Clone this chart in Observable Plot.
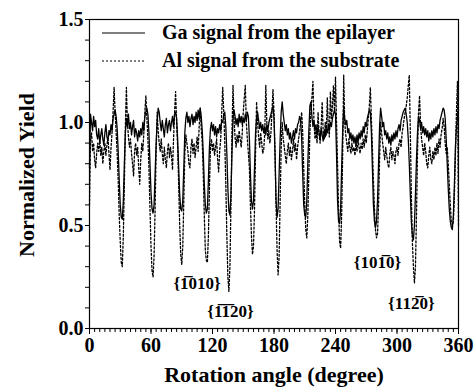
<!DOCTYPE html>
<html>
<head>
<meta charset="utf-8">
<script src="https://cdn.jsdelivr.net/npm/d3@7"></script>
<script src="https://cdn.jsdelivr.net/npm/@observablehq/plot@0.6"></script>
<style>
  html, body { margin: 0; padding: 0; background: white; }
  #chart svg { display: block; }
</style>
</head>
<body>
<div id="chart"></div>
<script>
// Rotation angles (degrees), 1-degree sampling
const angles = [
0,1,2,3,4,5,6,7,8,9,10,11,12,13,14,15,16,17,18,19,
20,21,22,23,24,25,26,27,28,29,30,31,32,33,34,35,36,37,38,39,
40,41,42,43,44,45,46,47,48,49,50,51,52,53,54,55,56,57,58,59,
60,61,62,63,64,65,66,67,68,69,70,71,72,73,74,75,76,77,78,79,
80,81,82,83,84,85,86,87,88,89,90,91,92,93,94,95,96,97,98,99,
100,101,102,103,104,105,106,107,108,109,110,111,112,113,114,115,116,117,118,119,
120,121,122,123,124,125,126,127,128,129,130,131,132,133,134,135,136,137,138,139,
140,141,142,143,144,145,146,147,148,149,150,151,152,153,154,155,156,157,158,159,
160,161,162,163,164,165,166,167,168,169,170,171,172,173,174,175,176,177,178,179,
180,181,182,183,184,185,186,187,188,189,190,191,192,193,194,195,196,197,198,199,
200,201,202,203,204,205,206,207,208,209,210,211,212,213,214,215,216,217,218,219,
220,221,222,223,224,225,226,227,228,229,230,231,232,233,234,235,236,237,238,239,
240,241,242,243,244,245,246,247,248,249,250,251,252,253,254,255,256,257,258,259,
260,261,262,263,264,265,266,267,268,269,270,271,272,273,274,275,276,277,278,279,
280,281,282,283,284,285,286,287,288,289,290,291,292,293,294,295,296,297,298,299,
300,301,302,303,304,305,306,307,308,309,310,311,312,313,314,315,316,317,318,319,
320,321,322,323,324,325,326,327,328,329,330,331,332,333,334,335,336,337,338,339,
340,341,342,343,344,345,346,347,348,349,350,351,352,353,354,355,356,357,358,359,
360];

// Ga signal from the epilayer (solid line)
const gaYield = [
0.78,1.04,1.00,0.96,1.03,0.98,1.01,0.94,0.92,0.97, 0.90,0.94,0.97,0.92,0.89,0.95,0.99,0.93,0.91,0.96,
0.94,0.99,0.96,1.02,1.04,1.06,1.03,0.97,0.86,0.72, 0.60,0.54,0.53,0.62,0.80,0.95,1.02,0.98,1.04,0.97,
1.00,0.94,0.98,1.01,0.93,0.97,0.95,0.91,0.96,0.93, 0.97,0.94,1.00,0.96,1.03,1.05,1.07,1.04,0.95,0.80,
0.66,0.58,0.56,0.60,0.75,0.90,1.00,1.07,1.05,1.00, 0.96,1.01,0.97,0.93,0.99,1.02,0.95,0.99,1.01,0.96,
1.00,1.03,0.98,1.04,1.05,1.02,0.92,0.78,0.65,0.58, 0.57,0.62,0.78,0.95,1.02,1.05,1.00,1.03,0.98,1.02,
1.04,0.99,1.03,1.00,1.05,1.01,1.06,1.02,1.07,1.03, 0.96,0.85,0.70,0.60,0.56,0.58,0.72,0.88,0.97,1.00,
0.96,0.99,0.94,0.98,0.93,0.97,0.95,0.99,0.96,1.01, 1.00,1.04,1.05,0.98,0.85,0.68,0.57,0.55,0.65,0.85,
1.02,1.06,1.03,0.99,1.02,0.98,1.04,1.00,1.03,0.99, 1.02,1.00,1.04,1.01,1.05,1.03,0.92,0.75,0.62,0.58,
0.62,0.78,0.95,1.02,1.05,1.01,0.97,1.00,0.96,0.99, 0.95,0.98,0.94,0.99,0.96,1.00,1.02,1.04,1.06,1.08,
1.02,0.85,0.62,0.54,0.58,0.75,0.92,1.05,1.10,1.04, 1.00,0.96,0.99,0.94,0.97,0.92,0.95,0.90,0.93,0.96,
0.92,0.97,0.95,0.99,1.00,1.03,1.01,0.92,0.75,0.60, 0.55,0.54,0.62,0.80,0.96,1.08,1.10,1.03,0.98,1.01,
0.96,0.99,0.94,0.98,0.95,0.92,0.97,0.94,0.91,0.96, 0.93,0.97,0.95,0.99,0.96,1.00,0.98,1.02,1.04,1.06,
1.04,0.85,0.62,0.52,0.51,0.58,0.78,0.96,1.07,1.02, 0.99,1.01,0.95,0.97,0.92,0.95,0.91,0.94,0.90,0.93,
0.89,0.94,0.91,0.95,0.92,0.96,0.93,0.98,0.95,1.00, 0.98,1.02,1.04,1.06,1.05,0.95,0.78,0.60,0.52,0.49,
0.52,0.62,0.80,0.98,1.07,1.03,0.98,1.00,0.94,0.96, 0.92,0.95,0.90,0.93,0.89,0.94,0.91,0.95,0.92,0.96,
0.93,0.97,0.99,0.96,1.01,1.03,1.05,1.06,1.07,1.04, 1.00,0.92,0.80,0.65,0.52,0.45,0.43,0.50,0.65,0.82,
0.95,1.03,1.01,0.97,1.00,0.95,0.98,0.94,0.97,0.93, 0.96,0.91,0.95,0.92,0.96,0.93,0.97,0.94,0.98,0.95,
0.99,0.97,1.01,1.03,1.05,1.07,1.06,1.02,0.92,0.80, 0.68,0.58,0.52,0.49,0.48,0.55,0.70,0.88,0.98,1.03,
1.06];

// Al signal from the substrate (dotted line)
const alYield = [
0.60,0.92,0.95,0.86,0.90,0.82,0.78,0.85,0.90,0.86, 0.92,0.84,0.88,0.80,0.86,0.90,0.84,0.89,0.93,0.85,
0.77,0.88,0.95,1.05,1.17,1.05,0.95,0.85,0.72,0.55, 0.42,0.32,0.30,0.45,0.70,0.98,1.17,1.00,0.93,0.88,
0.92,0.85,0.80,0.74,0.86,0.90,0.84,0.88,0.78,0.70, 0.82,0.90,0.86,0.95,1.05,1.13,1.02,0.92,0.78,0.58,
0.40,0.28,0.25,0.35,0.58,0.85,1.05,0.96,0.90,0.86, 0.92,0.85,0.80,0.88,0.82,0.78,0.86,0.90,0.83,0.88,
0.84,0.77,0.92,1.05,1.15,1.00,0.88,0.70,0.50,0.36, 0.31,0.40,0.62,0.85,0.94,0.90,0.86,0.80,0.78,0.88,
0.92,0.85,0.90,0.83,0.88,0.93,0.86,0.98,1.07,0.97, 0.90,0.75,0.55,0.38,0.33,0.32,0.45,0.68,0.88,0.92,
0.86,0.90,0.84,0.88,0.92,0.82,0.76,0.86,0.92,1.05, 1.17,1.05,0.90,0.70,0.45,0.25,0.18,0.30,0.60,0.95,
1.18,1.02,0.93,0.88,0.94,0.90,0.96,0.92,0.88,0.95, 1.05,1.12,1.18,1.00,0.92,0.85,0.78,0.60,0.45,0.36,
0.40,0.58,0.85,1.10,1.00,0.93,0.88,0.95,0.90,0.85, 0.87,0.95,1.18,1.00,0.92,0.96,0.90,0.95,1.05,1.16,
1.05,0.85,0.60,0.38,0.26,0.35,0.62,0.88,1.00,0.92, 0.88,0.84,0.80,0.86,0.90,0.84,0.88,0.82,0.86,0.92,
0.86,0.90,0.82,0.88,0.92,0.96,1.00,1.05,0.95,0.78, 0.60,0.48,0.44,0.55,0.75,0.95,1.05,1.12,1.20,1.00,
0.92,0.96,0.90,1.05,0.94,0.90,0.98,1.10,0.95,0.92, 1.00,0.94,1.12,0.98,0.93,1.15,1.02,1.08,1.18,1.05,
1.22,1.00,0.80,0.58,0.42,0.39,0.55,0.85,1.23,1.00, 0.94,0.90,0.86,0.92,0.88,0.85,0.90,0.86,0.88,0.84,
0.90,0.86,0.92,0.88,0.85,0.90,0.87,0.92,0.88,0.94, 0.90,0.96,1.02,1.08,1.17,1.02,0.88,0.72,0.58,0.48,
0.44,0.46,0.60,0.82,1.00,0.95,0.90,0.86,0.82,0.88, 0.84,0.80,0.78,0.85,0.88,0.82,0.86,0.84,0.80,0.86,
0.88,0.84,0.90,0.92,0.88,0.95,0.98,1.02,1.05,1.08, 1.12,1.18,1.23,0.95,0.65,0.42,0.30,0.22,0.30,0.55,
0.85,1.05,1.13,0.98,0.92,0.88,0.84,0.90,0.86,0.80, 0.78,0.84,0.88,0.82,0.80,0.86,0.82,0.88,0.84,0.90,
0.85,0.92,0.88,0.94,0.97,1.02,0.98,0.90,0.85,0.88, 0.80,0.70,0.60,0.52,0.50,0.52,0.65,0.85,1.05,1.20,
0.50];

// Axis ticks
const xMajorTicks = [0, 60, 120, 180, 240, 300, 360];
const xMinorTicks = [0,5,10,15,20,25,30,35,40,45,50,55,60,65,70,75,80,85,90,95,100,105,110,115,120,125,130,135,140,145,
150,155,160,165,170,175,180,185,190,195,200,205,210,215,220,225,230,235,240,245,250,255,260,265,270,275,280,285,290,295,
300,305,310,315,320,325,330,335,340,345,350,355,360];
const yMajorTicks = [0, 0.5, 1.0, 1.5];
const yMinorTicks = [0,0.1,0.2,0.3,0.4,0.5,0.6,0.7,0.8,0.9,1.0,1.1,1.2,1.3,1.4,1.5];

// Annotations (crystal directions)
const noteText = ["{1\u0305010}", "{1\u03051\u030520}", "{101\u03050}", "{112\u03050}"];
const noteAngle = [105, 137.5, 281, 314];
const noteYield = [0.22, 0.08, 0.32, 0.12];

// Legend
const seriesNames = ["Ga signal from the epilayer", "Al signal from the substrate"];
const seriesDash = [null, "2,2"];

const ga = angles.map((a, i) => ({angle: a, y: gaYield[i]}));
const al = angles.map((a, i) => ({angle: a, y: alYield[i]}));
const notes = noteText.map((t, i) => ({t, angle: noteAngle[i], y: noteYield[i]}));

const FONT = "'Liberation Serif', 'Times New Roman', 'DejaVu Serif', serif";

const chart = Plot.plot({
  width: 476,
  height: 387,
  marginLeft: 89,
  marginRight: 18,
  marginTop: 19,
  marginBottom: 59,
  style: {fontFamily: FONT, fontWeight: "bold", fontSize: "20px", background: "white", color: "black"},
  x: {domain: [0, 360]},
  y: {domain: [0, 1.5]},
  marks: [
    Plot.axisX({ticks: xMinorTicks, tickSize: 4, text: null, label: null}),
    Plot.axisX({ticks: xMajorTicks, tickSize: 6, tickPadding: 3, tickFormat: d => String(d), label: null, fontSize: 20, fontWeight: "bold"}),
    Plot.axisY({ticks: yMinorTicks, tickSize: 4, text: null, label: null}),
    Plot.axisY({ticks: yMajorTicks, tickSize: 4, tickPadding: 2, tickFormat: d => d.toFixed(1), label: null, fontSize: 20, fontWeight: "bold"}),
    Plot.line(al, {x: "angle", y: "y", stroke: "black", strokeWidth: 1.3, strokeDasharray: "2,2"}),
    Plot.line(ga, {x: "angle", y: "y", stroke: "black", strokeWidth: 1.3}),
    Plot.text(notes, {x: "angle", y: "y", text: "t", fontSize: 17, fontWeight: "bold", fill: "black"}),
    Plot.frame({stroke: "black", strokeWidth: 1.2})
  ]
});

const svg = d3.select(chart);
// Axis titles
svg.append("text")
  .attr("transform", "translate(29,175) rotate(-90)")
  .attr("text-anchor", "middle")
  .attr("dominant-baseline", "middle")
  .attr("font-family", FONT).attr("font-weight", "bold").attr("font-size", 22)
  .attr("fill", "black")
  .text("Normalized Yield");
svg.append("text")
  .attr("x", 274).attr("y", 382)
  .attr("text-anchor", "middle")
  .attr("font-family", FONT).attr("font-weight", "bold").attr("font-size", 22)
  .attr("fill", "black")
  .text("Rotation angle (degree)");

// Legend
const lg = svg.append("g");
seriesNames.forEach((name, i) => {
  const yy = 33 + i * 28;
  lg.append("line").attr("x1", 102).attr("x2", 145).attr("y1", yy).attr("y2", yy)
    .attr("stroke", "black").attr("stroke-width", 1.2)
    .attr("stroke-dasharray", seriesDash[i]);
  lg.append("text").attr("x", 162).attr("y", yy + 6)
    .attr("text-anchor", "start")
    .attr("font-family", FONT).attr("font-weight", "bold").attr("font-size", 20)
    .attr("fill", "black").text(name);
});

document.getElementById("chart").appendChild(chart);
</script>
</body>
</html>
